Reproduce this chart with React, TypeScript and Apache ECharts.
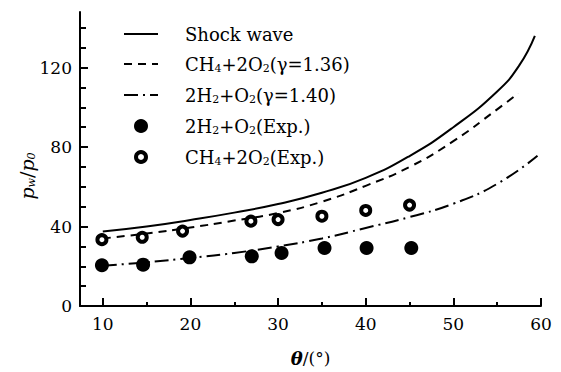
import React, { useEffect, useRef } from "react";
import * as echarts from "echarts";

// Theoretical curves (theta in degrees, p_w/p_0)
const shockTheta = [10, 15, 20, 25, 30, 35, 40, 45, 50, 55, 57.5, 59.3];
const shockP = [37.5, 40, 43.3, 47, 51.3, 57, 64.5, 75.5, 90, 108, 121, 136];
const ch4Theta = [10, 15, 20, 25, 30, 35, 40, 45, 50, 55, 57.4];
const ch4P = [34, 36.5, 39.5, 43, 46.8, 52.5, 60.5, 70, 83, 99, 107];
const h2Theta = [10, 15, 20, 25, 30, 35, 40, 45, 50, 55, 59.6];
const h2P = [20.3, 22, 24.2, 26.7, 30, 34, 39.3, 44.8, 51.5, 61.5, 75.6];
// Experimental points
const h2ExpTheta = [9.9, 14.6, 19.9, 27, 30.4, 35.3, 40.1, 45.2];
const h2ExpP = [20.5, 20.8, 24.5, 25, 26.7, 29.2, 29.2, 29.2];
const ch4ExpTheta = [9.9, 14.5, 19.1, 26.9, 30, 35, 40, 45];
const ch4ExpP = [33.4, 34.6, 37.7, 42.7, 43.5, 45.2, 48.1, 50.8];

const xTickValues = [10, 20, 30, 40, 50, 60];
const yTickValues = [0, 40, 80, 120];

const seriesNames = [
  "Shock wave",
  "CH4+2O2(γ=1.36)",
  "2H2+O2(γ=1.40)",
  "2H2+O2(Exp.)",
  "CH4+2O2(Exp.)",
];

const legendRich: Record<string, string> = {
  "Shock wave": "{t|Shock wave}",
  "CH4+2O2(γ=1.36)": "{t|CH}{s|4}{t|+2O}{s|2}{t|(γ=1.36)}",
  "2H2+O2(γ=1.40)": "{t|2H}{s|2}{t|+O}{s|2}{t|(γ=1.40)}",
  "2H2+O2(Exp.)": "{t|2H}{s|2}{t|+O}{s|2}{t|(Exp.)}",
  "CH4+2O2(Exp.)": "{t|CH}{s|4}{t|+2O}{s|2}{t|(Exp.)}",
};

const zip = (a: number[], b: number[]) => a.map((v, i) => [v, b[i]]);

const FONT = "DejaVu Serif";

export default function App() {
  const ref = useRef<HTMLDivElement>(null);
  useEffect(() => {
    if (!ref.current) return;
    const chart = echarts.init(ref.current, undefined, { renderer: "svg" });
    const lineBase = { type: "line", showSymbol: false, symbol: "none", smooth: 0.5, z: 2 };
    chart.setOption({
      animation: false,
      backgroundColor: "#fff",
      grid: { left: 80, right: 20, top: 12, bottom: 64 },
      legend: {
        orient: "vertical",
        left: 118,
        top: 20,
        itemWidth: 34,
        itemHeight: 10,
        itemGap: 11,
        data: [
          { name: seriesNames[0], itemStyle: { opacity: 0 } },
          { name: seriesNames[1], itemStyle: { opacity: 0 } },
          { name: seriesNames[2], itemStyle: { opacity: 0 } },
          {
            name: seriesNames[3],
            itemStyle: { color: "#000", borderColor: "#000", borderWidth: 4, opacity: 1 },
          },
          {
            name: seriesNames[4],
            itemStyle: { color: "#fff", borderColor: "#000", borderWidth: 4, opacity: 1 },
          },
        ],
        formatter: (n: string) => legendRich[n] || n,
        textStyle: {
          color: "#000",
          fontFamily: FONT,
          fontSize: 18,
          padding: [0, 0, 0, 22],
          rich: {
            t: { fontFamily: FONT, fontSize: 18, color: "#000", lineHeight: 22 },
            s: { fontFamily: FONT, fontSize: 11, color: "#000", padding: [9, 0, 0, 0], lineHeight: 22 },
          },
        },
      },
      xAxis: {
        type: "value",
        min: 7.4,
        max: 60,
        splitNumber: 5,
        name: "{th|θ}/(°)",
        nameLocation: "middle",
        nameGap: 43,
        nameTextStyle: {
          color: "#000",
          fontFamily: FONT,
          fontSize: 17,
          rich: { th: { fontFamily: FONT, fontSize: 18, fontWeight: "bold", fontStyle: "italic", color: "#000" } },
        },
        axisLine: { lineStyle: { color: "#000", width: 2 } },
        axisTick: { inside: true, length: 8, customValues: xTickValues, lineStyle: { color: "#000", width: 2 } },
        minorTick: { show: true, splitNumber: 2, length: 4, lineStyle: { color: "#000", width: 2 } },
        axisLabel: {
          customValues: xTickValues,
          color: "#000",
          fontFamily: FONT,
          fontSize: 17,
          margin: 9,
        },
        splitLine: { show: false },
        minorSplitLine: { show: false },
      },
      yAxis: {
        type: "value",
        min: 0,
        max: 148,
        interval: 40,
        axisLine: { show: true, lineStyle: { color: "#000", width: 2 } },
        axisTick: { show: true, inside: true, length: 8, customValues: yTickValues, lineStyle: { color: "#000", width: 2 } },
        minorTick: { show: true, splitNumber: 4, length: 6, lineStyle: { color: "#000", width: 2 } },
        axisLabel: {
          customValues: yTickValues,
          color: "#000",
          fontFamily: FONT,
          fontSize: 17,
          margin: 8,
        },
        splitLine: { show: false },
        minorSplitLine: { show: false },
      },
      graphic: [
        {
          type: "text",
          x: 27,
          y: 176,
          rotation: Math.PI / 2,
          style: {
            text: "{i|p}{s|w}{n|/}{i|p}{s|0}",
            align: "center",
            verticalAlign: "middle",
            rich: {
              i: { fontFamily: FONT, fontSize: 19, fontStyle: "italic", fill: "#000", lineHeight: 22 },
              n: { fontFamily: FONT, fontSize: 19, fill: "#000", lineHeight: 22 },
              s: { fontFamily: FONT, fontSize: 11, fontStyle: "italic", fill: "#000", padding: [9, 0, 0, 0], lineHeight: 22 },
            },
          },
        },
      ],
      series: [
        {
          ...lineBase,
          name: seriesNames[0],
          data: zip(shockTheta, shockP),
          lineStyle: { color: "#000", width: 2, type: "solid" },
          itemStyle: { color: "#000" },
        },
        {
          ...lineBase,
          name: seriesNames[1],
          data: zip(ch4Theta, ch4P),
          lineStyle: { color: "#000", width: 2, type: [8, 6] },
          itemStyle: { color: "#000" },
        },
        {
          ...lineBase,
          name: seriesNames[2],
          data: zip(h2Theta, h2P),
          lineStyle: { color: "#000", width: 2, type: [14, 5, 2, 5] },
          itemStyle: { color: "#000" },
        },
        {
          type: "scatter",
          name: seriesNames[3],
          data: zip(h2ExpTheta, h2ExpP),
          symbol: "circle",
          symbolSize: 14,
          itemStyle: { color: "#000", opacity: 1 },
          z: 3,
        },
        {
          type: "scatter",
          name: seriesNames[4],
          data: zip(ch4ExpTheta, ch4ExpP),
          symbol: "circle",
          symbolSize: 9,
          itemStyle: { color: "#fff", borderColor: "#000", borderWidth: 4, opacity: 1 },
          z: 3,
        },
      ],
    });
    return () => chart.dispose();
  }, []);
  return (
    <div
      ref={ref}
      style={{ position: "fixed", left: 0, top: 0, width: 561, height: 372, background: "#fff" }}
    />
  );
}
